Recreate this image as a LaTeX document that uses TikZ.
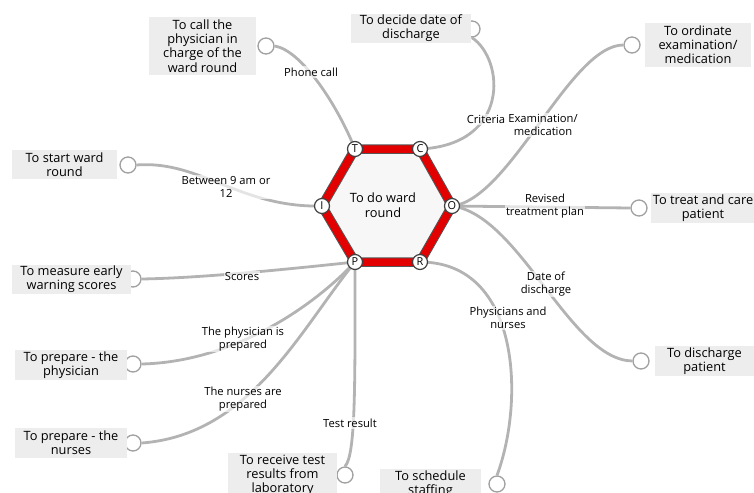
\documentclass[tikz,border=0pt]{standalone}
\usepackage{fontspec}
\setmainfont{Open Sans}
\begin{document}
\begin{tikzpicture}[x=0.75pt,y=-0.75pt,
  link/.style={draw=linkgray,line width=2.8pt*0.75},
  endcircle/.style={circle,draw=circgray,fill=white,line width=1.3pt*0.75,minimum size=16pt*0.75,inner sep=0pt},
  vertex/.style={circle,draw=vertgray,fill=white,line width=1.2pt*0.75,minimum size=15pt*0.75,inner sep=0pt,font=\fontsize{8.2}{9}\selectfont},
  task/.style={fill=boxgray,inner sep=0pt,align=center,font=\fontsize{9.6}{10.6}\selectfont},
  lbl/.style={fill=white,fill opacity=0.65,text opacity=1,inner sep=1pt,align=center,font=\fontsize{8.4}{9.4}\selectfont}]
\definecolor{linkgray}{HTML}{B3B3B3}
\definecolor{circgray}{HTML}{A0A0A0}
\definecolor{vertgray}{HTML}{404040}
\definecolor{boxgray}{HTML}{EDEDED}
\definecolor{hexred}{HTML}{E30000}
\definecolor{hexedge}{HTML}{555555}
\useasboundingbox (0,0) rectangle (754,493);
\clip (0,0) rectangle (754,493);

% hexagon corner coordinates
\coordinate (t) at (355,149);
\coordinate (c) at (420,149);
\coordinate (o) at (452,206);
\coordinate (r) at (420,262);
\coordinate (p) at (355,262);
\coordinate (i) at (322,206);

% end circles of the connectors
\node[endcircle] (e1) at (266,46) {};
\node[endcircle] (e2) at (472,29) {};
\node[endcircle] (e3) at (632,45) {};
\node[endcircle] (e4) at (639,208) {};
\node[endcircle] (e5) at (641,361) {};
\node[endcircle] (e6) at (497,484) {};
\node[endcircle] (e7) at (345,475) {};
\node[endcircle] (e8) at (133,443) {};
\node[endcircle] (e9) at (133,364) {};
\node[endcircle] (e10) at (133,279) {};
\node[endcircle] (e11) at (128,165) {};

% connectors
\draw[link] (e1.east) .. controls (300,50) and (335,100) .. (t);
\draw[link] (c) .. controls (510,145) and (505,60) .. (e2.south);
\draw[link] (o) .. controls (510,200) and (570,45) .. (e3.west);
\draw[link] (o) -- (e4.west);
\draw[link] (o) .. controls (520,215) and (570,360) .. (e5.west);
\draw[link] (r) .. controls (520,262) and (525,400) .. (e6.north);
\draw[link] (p) .. controls (355,380) and (356,455) .. (e7.north);
\draw[link] (p) .. controls (300,330) and (250,435) .. (e8.east);
\draw[link] (p) .. controls (310,310) and (230,362) .. (e9.east);
\draw[link] (p) .. controls (280,270) and (200,278) .. (e10.east);
\draw[link] (e11.east) .. controls (200,160) and (240,208) .. (i);

% connector labels
\node[lbl] (l1) at (311,72) {Phone call};
\node[lbl] (l2) at (486,119) {Criteria};
\node[lbl] (l3) at (543,125) {Examination/\\medication};
\node[lbl] (l4) at (545,206) {Revised\\treatment plan};
\node[lbl] (l5) at (546,284) {Date of\\discharge};
\node[lbl] (l6) at (508,318) {Physicians and\\nurses};
\node[lbl] (l7) at (350,423) {Test result};
\node[lbl] (l8) at (243,399) {The nurses are\\prepared};
\node[lbl] (l9) at (243,339) {The physician is\\prepared};
\node[lbl] (l10) at (242,276) {Scores};
\node[lbl] (l11) at (226,187) {Between 9 am or\\12};

% task boxes
\node[task,minimum width=107pt*0.75,minimum height=58pt*0.75] (b1) at (202.5,46) {To call the\\physician in\\charge of the\\ward round};
\node[task,minimum width=120pt*0.75,minimum height=29pt*0.75] (b2) at (411,28.5) {To decide date of\\discharge};
\node[task,minimum width=106pt*0.75,minimum height=44pt*0.75] (b3) at (698,45) {To ordinate\\examination/\\medication};
\node[task,minimum width=104pt*0.75,minimum height=30pt*0.75] (b4) at (703,208) {To treat and care\\patient};
\node[task,minimum width=99pt*0.75,minimum height=30pt*0.75] (b5) at (704.5,361) {To discharge\\patient};
\node[task,minimum width=101pt*0.75,minimum height=30pt*0.75] (b6) at (430.5,484) {To schedule\\staffing};
\node[task,minimum width=109pt*0.75,minimum height=44pt*0.75] (b7) at (282.5,475) {To receive test\\results from\\laboratory};
\node[task,minimum width=112pt*0.75,minimum height=30pt*0.75] (b8) at (71,443) {To prepare - the\\nurses};
\node[task,minimum width=112pt*0.75,minimum height=30pt*0.75] (b9) at (71,365) {To prepare - the\\physician};
\node[task,minimum width=119pt*0.75,minimum height=29pt*0.75] (b10) at (71.5,279.5) {To measure early\\warning scores};
\node[task,minimum width=105pt*0.75,minimum height=29pt*0.75] (b11) at (64.5,164.5) {To start ward\\round};

% central hexagon
\fill[white!97!black] (t) -- (c) -- (o) -- (r) -- (p) -- (i) -- cycle;
\draw[hexedge,line width=9.5pt*0.75,line join=miter] (t) -- (c) -- (o) -- (r) -- (p) -- (i) -- cycle;
\draw[hexred,line width=7.5pt*0.75,line join=miter] (t) -- (c) -- (o) -- (r) -- (p) -- (i) -- cycle;
\node[align=center,font=\fontsize{9.6}{11}\selectfont] (hub) at (383,205) {To do ward\\round};

% lettered corners
\node[vertex] (vt) at (t) {T};
\node[vertex] (vc) at (c) {C};
\node[vertex] (vo) at (o) {O};
\node[vertex] (vr) at (r) {R};
\node[vertex] (vp) at (p) {P};
\node[vertex] (vi) at (i) {I};
\end{tikzpicture}
\end{document}
